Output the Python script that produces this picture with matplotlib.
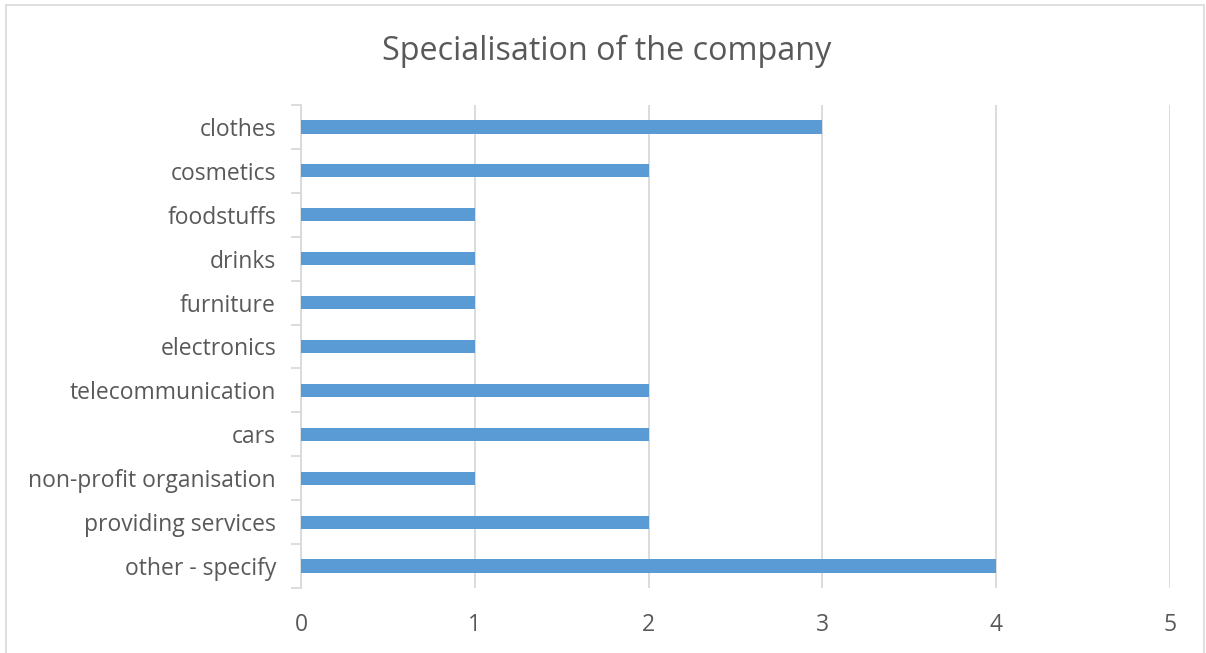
import matplotlib
matplotlib.use("Agg")
import matplotlib.pyplot as plt
from matplotlib.patches import Rectangle
import numpy as np

categories = ["clothes", "cosmetics", "foodstuffs", "drinks", "furniture",
              "electronics", "telecommunication", "cars",
              "non-profit organisation", "providing services", "other - specify"]
counts = [3, 2, 1, 1, 1, 1, 2, 2, 1, 2, 4]
x_ticks = [0, 1, 2, 3, 4, 5]

BAR = "#5B9BD5"
GRID = "#D9D9D9"
TEXT = "#595959"

plt.rcParams["font.family"] = ["Open Sans", "DejaVu Sans"]

fig = plt.figure(figsize=(12.06, 6.53), dpi=100)
ax = fig.add_axes([301 / 1206, 1 - 588 / 653, (1170 - 301) / 1206, (588 - 105) / 653])

# chart frame, open at the bottom edge
fig.patches.append(Rectangle((6 / 1206, -0.05), 1198 / 1206, 1.05 - 5 / 653,
                             transform=fig.transFigure, fill=False,
                             edgecolor=GRID, linewidth=1.2))

ypos = np.arange(len(categories))
ax.barh(ypos, counts, height=0.3, color=BAR, zorder=3)

ax.set_xlim(0, 5)
ax.set_ylim(len(categories) - 0.5, -0.5)
ax.set_xticks(x_ticks)
ax.set_xticklabels([str(t) for t in x_ticks])
ax.set_yticks(ypos)
ax.set_yticklabels(categories)
ax.set_yticks(np.arange(-0.5, len(categories)), minor=True)

ax.grid(axis="x", color=GRID, linewidth=1.3, zorder=0)
for side in ("top", "right", "bottom"):
    ax.spines[side].set_visible(False)
ax.spines["left"].set_color(GRID)
ax.spines["left"].set_linewidth(1.3)

ax.tick_params(axis="y", which="major", length=0, pad=18, labelsize=16.5, labelcolor=TEXT)
ax.tick_params(axis="y", which="minor", length=7, width=1.3, color=GRID)
ax.tick_params(axis="x", length=0, pad=18, labelsize=16.5, labelcolor=TEXT)

fig.text(0.503, 1 - 51 / 653, "Specialisation of the company", ha="center", va="center",
         fontsize=23.3, color=TEXT)

fig.savefig("out.png", dpi=100)
